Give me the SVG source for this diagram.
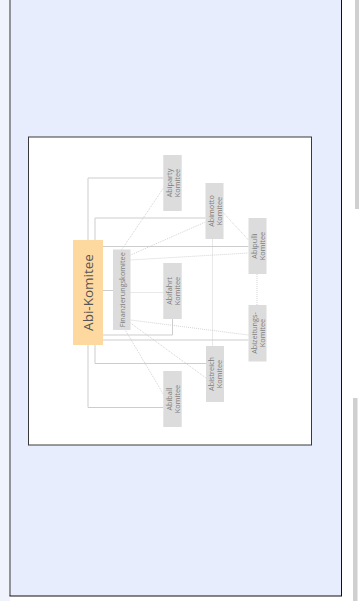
<svg xmlns="http://www.w3.org/2000/svg" width="360" height="601" viewBox="0 0 360 601">
<style>
  .box{fill:#dcdcdc}
  .lbl{font-family:"Open Sans","Liberation Sans",sans-serif;font-size:7.3px;fill:#7c7c7c;text-anchor:middle;dominant-baseline:central}
  .solid{fill:none;stroke:#cdcdcd;stroke-width:1}
  .dot{fill:none;stroke:#c8c8c8;stroke-width:0.8;stroke-dasharray:1 1}
</style>
<rect x="0" y="0" width="360" height="601" fill="#ffffff"/>
<rect x="0" y="0" width="10" height="601" fill="#f1f3fc"/>
<rect x="10" y="-2" width="332" height="598" fill="#e8edfd"/>
<line x1="10" y1="0" x2="10" y2="596" stroke="#7a7a80" stroke-width="1.6"/>
<line x1="341.5" y1="0" x2="341.5" y2="596" stroke="#111" stroke-width="1"/>
<line x1="9.5" y1="596" x2="342" y2="596" stroke="#111" stroke-width="1.2"/>
<rect x="355" y="0" width="4" height="209" fill="#d0d0d0"/>
<rect x="353" y="398" width="4.5" height="203" fill="#d0d0d0"/>
<rect x="28.5" y="137" width="283" height="308" fill="#ffffff" stroke="#3a3a3a" stroke-width="1"/>
<g id="connectors">
  <path class="solid" d="M88,240 V178 H163.5"/>
  <path class="solid" d="M95,240 V218 H205.5"/>
  <path class="solid" d="M103,246.5 H248.5"/>
  <path class="solid" d="M103,290.5 H113"/>
  <path class="solid" d="M103,335 H172.5 V319"/>
  <path class="solid" d="M103,340 H248.5"/>
  <path class="solid" d="M95,345 V363.5 H206"/>
  <path class="solid" d="M88,345 V407.5 H163.5"/>
  <path class="dot" d="M121.5,250 L163.5,188"/>
  <path class="dot" d="M130.5,255 L205.5,222"/>
  <path class="dot" d="M130.5,260 L248.5,253"/>
  <path class="dot" d="M130.5,292.5 L163.5,292.5"/>
  <path class="dot" d="M130.5,320 L248.5,335"/>
  <path class="dot" d="M130.5,323 L206,378"/>
  <path class="dot" d="M125,329.5 L165,397"/>
  <path class="dot" d="M223.5,213 L248.5,240"/>
  <path class="dot" d="M212.5,239.5 V346"/>
  <path class="dot" d="M257,274 V305"/>
</g>
<g id="abi-komitee">
  <rect x="73" y="240" width="30" height="105" fill="#fdd89f"/>
  <text transform="translate(88,292.5) rotate(-90)" x="0" y="0" style="font-family:'Open Sans','Liberation Sans',sans-serif;font-size:13.5px;fill:#555;text-anchor:middle;dominant-baseline:central">Abi-Komitee</text>
</g>
<g id="finanzierungskomitee">
  <rect class="box" x="113" y="249.5" width="17.5" height="80.5"/>
  <text class="lbl" transform="translate(121.75,289.75) rotate(-90)" x="0" y="0">Finanzierungskomitee</text>
</g>
<g id="abiparty">
  <rect class="box" x="163.3" y="155" width="18.4" height="56"/>
  <text class="lbl" transform="translate(172.5,183) rotate(-90)"><tspan x="0" y="-4">Abiparty</tspan><tspan x="0" y="4">Komitee</tspan></text>
</g>
<g id="abifahrt">
  <rect class="box" x="163.3" y="263" width="18.4" height="56"/>
  <text class="lbl" transform="translate(172.5,291) rotate(-90)"><tspan x="0" y="-4">Abifahrt</tspan><tspan x="0" y="4">Komitee</tspan></text>
</g>
<g id="abiball">
  <rect class="box" x="163.3" y="371" width="18.4" height="56"/>
  <text class="lbl" transform="translate(172.5,399) rotate(-90)"><tspan x="0" y="-4">Abiball</tspan><tspan x="0" y="4">Komitee</tspan></text>
</g>
<g id="abimotto">
  <rect class="box" x="205.5" y="183" width="18" height="56"/>
  <text class="lbl" transform="translate(214.5,211) rotate(-90)"><tspan x="0" y="-4">Abimotto</tspan><tspan x="0" y="4">Komitee</tspan></text>
</g>
<g id="abistreich">
  <rect class="box" x="206" y="346" width="18" height="56"/>
  <text class="lbl" transform="translate(215,374) rotate(-90)"><tspan x="0" y="-4">Abistreich</tspan><tspan x="0" y="4">Komitee</tspan></text>
</g>
<g id="abipulli">
  <rect class="box" x="248.5" y="218" width="18" height="56"/>
  <text class="lbl" transform="translate(257.5,246) rotate(-90)"><tspan x="0" y="-4">Abipulli</tspan><tspan x="0" y="4">Komitee</tspan></text>
</g>
<g id="abizeitungs">
  <rect class="box" x="248.5" y="305" width="18" height="56.5"/>
  <text class="lbl" transform="translate(257.5,333) rotate(-90)"><tspan x="0" y="-4">Abizeitungs-</tspan><tspan x="0" y="4">Komitee</tspan></text>
</g>
</svg>
